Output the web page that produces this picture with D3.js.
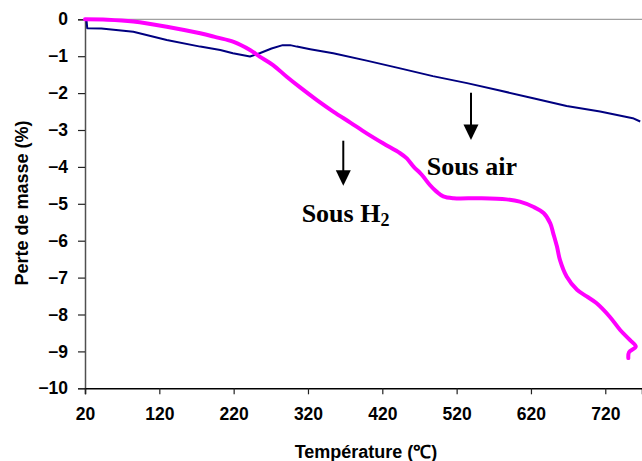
<!DOCTYPE html>
<html>
<head>
<meta charset="utf-8">
<script src="https://cdn.jsdelivr.net/npm/d3@7"></script>
<style>
  html, body { margin: 0; padding: 0; background: #fff; }
  svg { display: block; }
</style>
</head>
<body>
<svg id="chart" width="642" height="461"></svg>
<script>
// ---- Data ----
const xTicks = [20, 120, 220, 320, 420, 520, 620, 720];
const yTicks = [0, -1, -2, -3, -4, -5, -6, -7, -8, -9, -10];

// Sous air (navy)
const airTemp = [22, 23, 42, 85, 130, 175, 202, 219, 242, 255, 271, 286, 296, 305, 323, 354, 399, 444, 488, 534, 578, 623, 668, 713, 757, 767];
const airLoss = [-0.02, -0.24, -0.25, -0.34, -0.56, -0.74, -0.83, -0.92, -1.01, -0.92, -0.79, -0.70, -0.70, -0.74, -0.81, -0.92, -1.12, -1.33, -1.54, -1.73, -1.93, -2.14, -2.35, -2.50, -2.68, -2.77];

// Sous H2 (magenta)
const h2Temp = [20, 50, 85, 130, 175, 197, 220, 242, 255, 273, 291, 309, 332, 354, 377, 399, 421, 444, 453, 462, 471, 475, 484, 493, 502, 516, 551, 587, 605, 623, 637, 646, 650, 655, 659, 668, 682, 695, 708, 726, 740, 753, 761, 752, 751];
const h2Loss = [0, -0.01, -0.06, -0.20, -0.38, -0.49, -0.61, -0.83, -1.01, -1.24, -1.55, -1.84, -2.19, -2.50, -2.80, -3.09, -3.36, -3.63, -3.77, -3.99, -4.17, -4.26, -4.49, -4.67, -4.80, -4.85, -4.85, -4.88, -4.94, -5.08, -5.25, -5.53, -5.80, -6.16, -6.52, -6.97, -7.33, -7.51, -7.69, -8.06, -8.42, -8.69, -8.87, -9.02, -9.18];

// Annotations: label text, arrow x (°C), arrow top / tip (%)
const annoLabels = ["Sous H", "Sous air"];
const annoArrowT = [367.5, 539.3];
const annoArrowFrom = [-3.29, -1.99];
const annoArrowTo = [-4.51, -3.27];
const annoTextT = [311.5, 479.7];
const annoTextV = [-5.48, -4.22];

// ---- Layout ----
const mLeft = 85, mRight = 642, mTop = 19.3, mBottom = 388.3;
const svg = d3.select("#chart");

const x = d3.scaleLinear().domain([20, 769.4]).range([mLeft, mRight]);
const y = d3.scaleLinear().domain([0, -10]).range([mTop, mBottom]);

// top frame line
svg.append("line")
  .attr("x1", mLeft).attr("x2", mRight)
  .attr("y1", mTop).attr("y2", mTop)
  .attr("stroke", "#a0a0a0").attr("stroke-width", 1.2);

// Y axis
const yAxis = svg.append("g")
  .attr("transform", `translate(${mLeft},0)`)
  .call(d3.axisLeft(y).tickValues(yTicks).tickSize(7).tickPadding(10).tickFormat(d3.format("d")));
yAxis.select(".domain").attr("stroke", "#505050").attr("stroke-width", 1.5);
yAxis.selectAll(".tick line").attr("stroke", "#222").attr("stroke-width", 1.2);
yAxis.selectAll(".tick text")
  .attr("font-family", "'Liberation Sans', Arial, sans-serif")
  .attr("font-weight", "bold").attr("font-size", "17.5px").attr("fill", "#000");

// X axis
const xAxis = svg.append("g")
  .attr("transform", `translate(0,${mBottom})`)
  .call(d3.axisBottom(x).tickValues(xTicks).tickSize(6).tickPadding(13).tickFormat(d3.format("d")));
xAxis.select(".domain").attr("stroke", "#000").attr("stroke-width", 1.5);
xAxis.selectAll(".tick line").attr("stroke", "#222").attr("stroke-width", 1.2);
xAxis.selectAll(".tick text")
  .attr("font-family", "'Liberation Sans', Arial, sans-serif")
  .attr("font-weight", "bold").attr("font-size", "17.5px").attr("fill", "#000");

// Axis titles
svg.append("text")
  .attr("x", 366).attr("y", 458)
  .attr("text-anchor", "middle")
  .attr("font-family", "'Liberation Sans', Arial, sans-serif")
  .attr("font-weight", "bold").attr("font-size", "18px")
  .text("Température (℃)");

svg.append("text")
  .attr("transform", "translate(28,203) rotate(-90)")
  .attr("text-anchor", "middle")
  .attr("font-family", "'Liberation Sans', Arial, sans-serif")
  .attr("font-weight", "bold").attr("font-size", "18px")
  .text("Perte de masse (%)");

// Curves
const lineLin = d3.line().x(d => x(d[0])).y(d => y(d[1]));
const lineSmooth = d3.line().x(d => x(d[0])).y(d => y(d[1])).curve(d3.curveCatmullRom.alpha(0.5));
const airData = airTemp.map((t, i) => [t, airLoss[i]]);
const h2Data = h2Temp.map((t, i) => [t, h2Loss[i]]);

svg.append("path").datum(airData)
  .attr("d", lineLin).attr("fill", "none")
  .attr("stroke", "#000080").attr("stroke-width", 2).attr("stroke-linejoin", "round");

svg.append("path").datum(h2Data)
  .attr("d", lineSmooth).attr("fill", "none")
  .attr("stroke", "#ff00ff").attr("stroke-width", 4).attr("stroke-linejoin", "round").attr("stroke-linecap", "round");

// Annotations
annoLabels.forEach((lab, i) => {
  const ax = x(annoArrowT[i]);
  const y0 = y(annoArrowFrom[i]);
  const y1 = y(annoArrowTo[i]);
  svg.append("line")
    .attr("x1", ax).attr("x2", ax).attr("y1", y0).attr("y2", y1 - 14)
    .attr("stroke", "#000").attr("stroke-width", 2);
  svg.append("path")
    .attr("d", `M${ax - 7.5},${y1 - 15.5} L${ax + 7.5},${y1 - 15.5} L${ax},${y1} Z`)
    .attr("fill", "#000");
  const t = svg.append("text")
    .attr("x", x(annoTextT[i])).attr("y", y(annoTextV[i]))
    .attr("font-family", "'Liberation Serif', 'Times New Roman', serif")
    .attr("font-weight", "bold").attr("font-size", "26px").attr("fill", "#000")
    .text(lab);
  if (i === 0) {
    t.append("tspan").attr("font-size", "18px").attr("dy", 4).text("2");
  }
});
</script>
</body>
</html>
